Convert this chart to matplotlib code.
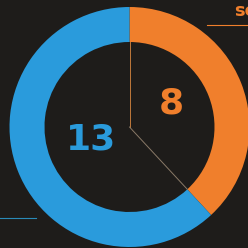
import numpy as np
import matplotlib.pyplot as plt

# donut values
values = [8, 13]
labels = ["8", "13"]
colors = ["#f07f2c", "#2a9bdc"]
bg = "#1e1c1a"

fig = plt.figure(figsize=(2.48, 2.48), dpi=100, facecolor=bg)
ax = fig.add_axes([0, 0, 1, 1])
ax.set_facecolor(bg)

cx, cy = 129.5, 121
r_out, width = 120, 35
ax.pie(values, startangle=90, counterclock=False, colors=colors,
       radius=r_out, center=(cx, cy), wedgeprops=dict(width=width, linewidth=0))

# thin guide lines from the centre
r_in = r_out - width
ang = np.deg2rad(90 - 360 * values[0] / sum(values))
ax.plot([cx, cx], [cy, cy + r_in], color="#c0783a", lw=0.7)
ax.plot([cx, cx + r_in * np.cos(ang)], [cy, cy + r_in * np.sin(ang)], color="#8a7a68", lw=0.7)

# numbers
ax.text(171, 248 - 104, labels[0], color=colors[0], fontsize=26, fontweight="bold",
        family="Liberation Sans Narrow", ha="center", va="center")
ax.text(91.5, 248 - 139, labels[1], color=colors[1], fontsize=26, fontweight="bold",
        family="Liberation Sans Narrow", ha="center", va="center")

# side labels, cut off by the frame
ax.text(234, 248 - 11, "se", color=colors[0], fontsize=13, fontweight="bold",
        ha="left", va="center")
ax.plot([207, 250], [248 - 25, 248 - 25], color=colors[0], lw=0.8)
ax.plot([-2, 36], [248 - 218, 248 - 218], color="#2a8ab8", lw=0.8)

ax.set_xlim(0, 248)
ax.set_ylim(0, 248)
ax.set_aspect("equal")
ax.axis("off")

fig.savefig("out.png", dpi=100, facecolor=bg)
